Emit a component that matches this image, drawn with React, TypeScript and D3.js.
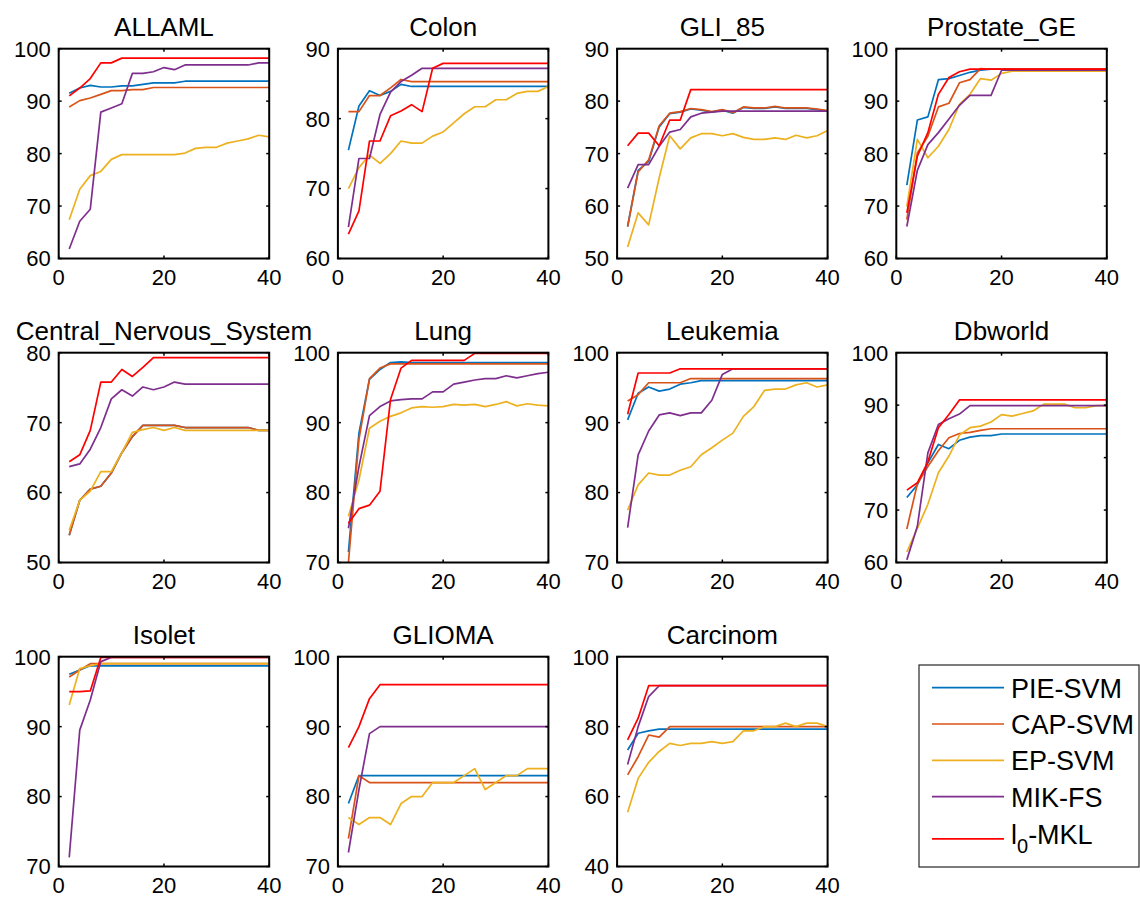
import React from 'react';
import * as d3 from 'd3';

// feature counts on the x axis
const featureCounts = [2, 4, 6, 8, 10, 12, 14, 16, 18, 20, 22, 24, 26, 28, 30, 32, 34, 36, 38, 40];

const methods = ['PIE-SVM', 'CAP-SVM', 'EP-SVM', 'MIK-FS', 'l0-MKL'];
const methodColors = ['#0072BD', '#D95319', '#EDB120', '#7E2F8E', '#FF0000'];

// ALLAML
const allamlPie = [91.5, 92.5, 93.0, 92.7, 92.7, 92.9, 92.9, 93.2, 93.5, 93.5, 93.5, 93.8, 93.8, 93.8, 93.8, 93.8, 93.8, 93.8, 93.8, 93.8];
const allamlCap = [88.9, 90.1, 90.6, 91.3, 92.0, 92.0, 92.2, 92.2, 92.6, 92.6, 92.6, 92.6, 92.6, 92.6, 92.6, 92.6, 92.6, 92.6, 92.6, 92.6];
const allamlEp = [67.4, 73.2, 75.8, 76.6, 78.9, 79.8, 79.8, 79.8, 79.8, 79.8, 79.8, 80.1, 81.0, 81.2, 81.2, 82.0, 82.4, 82.8, 83.5, 83.2];
const allamlMik = [61.8, 67.1, 69.4, 87.9, 88.7, 89.5, 95.3, 95.3, 95.6, 96.4, 96.0, 96.9, 96.9, 96.9, 96.9, 96.9, 96.9, 96.9, 97.3, 97.3];
const allamlL0 = [91.0, 92.5, 94.3, 97.3, 97.3, 98.2, 98.2, 98.2, 98.2, 98.2, 98.2, 98.2, 98.2, 98.2, 98.2, 98.2, 98.2, 98.2, 98.2, 98.2];

// Colon
const colonPie = [75.5, 81.8, 84.0, 83.3, 83.9, 84.9, 84.6, 84.6, 84.6, 84.6, 84.6, 84.6, 84.6, 84.6, 84.6, 84.6, 84.6, 84.6, 84.6, 84.6];
const colonCap = [81.0, 81.0, 83.3, 83.3, 84.4, 85.6, 85.3, 85.3, 85.3, 85.3, 85.3, 85.3, 85.3, 85.3, 85.3, 85.3, 85.3, 85.3, 85.3, 85.3];
const colonEp = [70.0, 73.0, 74.8, 73.6, 75.0, 76.8, 76.5, 76.5, 77.5, 78.1, 79.4, 80.7, 81.7, 81.7, 82.7, 82.7, 83.6, 83.9, 83.9, 84.6];
const colonMik = [64.5, 74.3, 74.3, 80.6, 83.8, 85.3, 86.2, 87.2, 87.2, 87.2, 87.2, 87.2, 87.2, 87.2, 87.2, 87.2, 87.2, 87.2, 87.2, 87.2];
const colonL0 = [63.5, 66.8, 76.8, 76.8, 80.4, 81.1, 82.0, 81.0, 87.2, 87.9, 87.9, 87.9, 87.9, 87.9, 87.9, 87.9, 87.9, 87.9, 87.9, 87.9];

// GLI_85
const gliPie = [56.1, 66.8, 68.5, 75.1, 77.6, 77.9, 78.5, 78.3, 77.9, 78.3, 77.7, 78.8, 78.6, 78.6, 78.9, 78.6, 78.6, 78.6, 78.4, 78.1];
const gliCap = [56.1, 66.5, 68.8, 75.3, 77.7, 78.0, 78.6, 78.4, 78.0, 78.4, 77.8, 78.9, 78.7, 78.7, 79.0, 78.7, 78.7, 78.7, 78.5, 78.2];
const gliEp = [52.2, 58.7, 56.4, 65.4, 73.4, 70.9, 73.0, 73.8, 73.8, 73.4, 73.8, 73.1, 72.7, 72.7, 73.0, 72.7, 73.5, 73.0, 73.4, 74.4];
const gliMik = [63.4, 67.9, 67.9, 71.4, 74.1, 74.6, 77.0, 77.7, 77.9, 78.1, 78.1, 78.1, 78.1, 78.1, 78.1, 78.1, 78.1, 78.1, 78.1, 78.1];
const gliL0 = [71.5, 73.9, 73.9, 71.5, 76.4, 76.4, 82.2, 82.2, 82.2, 82.2, 82.2, 82.2, 82.2, 82.2, 82.2, 82.2, 82.2, 82.2, 82.2, 82.2];

// Prostate_GE
const prostatePie = [74.0, 86.4, 87.0, 94.1, 94.3, 94.9, 95.5, 95.9, 96.1, 96.1, 96.1, 96.1, 96.1, 96.1, 96.1, 96.1, 96.1, 96.1, 96.1, 96.1];
const prostateCap = [67.4, 80.1, 83.3, 88.9, 89.6, 93.5, 94.1, 96.2, 96.1, 96.1, 96.1, 96.1, 96.1, 96.1, 96.1, 96.1, 96.1, 96.1, 96.1, 96.1];
const prostateEp = [69.9, 82.7, 79.2, 81.4, 84.6, 89.4, 91.3, 94.3, 94.0, 95.3, 95.7, 95.7, 95.7, 95.7, 95.7, 95.7, 95.7, 95.7, 95.7, 95.7];
const prostateMik = [66.1, 76.8, 81.7, 84.0, 86.6, 89.2, 91.1, 91.1, 91.1, 95.9, 95.9, 95.9, 95.9, 95.9, 95.9, 95.9, 95.9, 95.9, 95.9, 95.9];
const prostateL0 = [68.7, 79.5, 84.0, 91.3, 94.5, 95.6, 96.1, 96.1, 96.1, 96.1, 96.1, 96.1, 96.1, 96.1, 96.1, 96.1, 96.1, 96.1, 96.1, 96.1];

// Central_Nervous_System
const cnsPie = [53.9, 58.9, 60.5, 60.9, 62.8, 65.7, 68.0, 69.6, 69.6, 69.6, 69.6, 69.3, 69.3, 69.3, 69.3, 69.3, 69.3, 69.3, 68.9, 68.9];
const cnsCap = [53.9, 58.9, 60.5, 60.9, 62.8, 65.7, 68.0, 69.6, 69.6, 69.6, 69.6, 69.3, 69.3, 69.3, 69.3, 69.3, 69.3, 69.3, 68.9, 68.9];
const cnsEp = [54.6, 58.9, 60.2, 63.0, 63.0, 65.7, 68.6, 69.0, 69.3, 68.9, 69.3, 68.9, 68.9, 68.9, 68.9, 68.9, 68.9, 68.9, 68.9, 68.9];
const cnsMik = [63.7, 64.1, 66.2, 69.3, 73.4, 74.7, 73.8, 75.1, 74.7, 75.1, 75.8, 75.5, 75.5, 75.5, 75.5, 75.5, 75.5, 75.5, 75.5, 75.5];
const cnsL0 = [64.4, 65.4, 68.9, 75.8, 75.8, 77.6, 76.6, 77.9, 79.3, 79.3, 79.3, 79.3, 79.3, 79.3, 79.3, 79.3, 79.3, 79.3, 79.3, 79.3];

// Lung
const lungPie = [71.5, 88.5, 96.2, 97.6, 98.6, 98.7, 98.6, 98.6, 98.6, 98.6, 98.6, 98.6, 98.6, 98.6, 98.6, 98.6, 98.6, 98.6, 98.6, 98.6];
const lungCap = [70.0, 87.6, 96.3, 97.8, 98.4, 98.4, 98.4, 98.4, 98.4, 98.4, 98.4, 98.4, 98.4, 98.4, 98.4, 98.4, 98.4, 98.4, 98.4, 98.4];
const lungEp = [76.6, 81.8, 89.2, 90.2, 90.9, 91.4, 92.1, 92.3, 92.2, 92.3, 92.6, 92.5, 92.6, 92.3, 92.6, 93.0, 92.4, 92.7, 92.5, 92.4];
const lungMik = [74.9, 83.7, 91.0, 92.3, 93.1, 93.3, 93.4, 93.4, 94.4, 94.4, 95.5, 95.8, 96.1, 96.3, 96.3, 96.7, 96.4, 96.7, 97.0, 97.2];
const lungL0 = [75.6, 77.7, 78.2, 80.2, 93.3, 97.8, 98.9, 98.9, 98.9, 98.9, 98.9, 98.9, 99.9, 99.9, 99.9, 99.9, 99.9, 99.9, 99.9, 99.9];

// Leukemia
const leukPie = [90.4, 94.2, 95.1, 94.5, 94.8, 95.5, 95.7, 96.0, 96.0, 96.0, 96.0, 96.0, 96.0, 96.0, 96.0, 96.0, 96.0, 96.0, 96.0, 96.0];
const leukCap = [93.1, 94.0, 95.7, 95.7, 95.7, 95.7, 96.3, 96.3, 96.3, 96.3, 96.3, 96.3, 96.3, 96.3, 96.3, 96.3, 96.3, 96.3, 96.3, 96.3];
const leukEp = [77.5, 81.1, 82.8, 82.5, 82.5, 83.2, 83.7, 85.4, 86.4, 87.5, 88.5, 90.9, 92.3, 94.6, 94.8, 94.8, 95.4, 95.7, 95.1, 95.4];
const leukMik = [75.0, 85.4, 88.8, 91.1, 91.4, 91.0, 91.4, 91.4, 93.2, 96.9, 97.7, 97.7, 97.7, 97.7, 97.7, 97.7, 97.7, 97.7, 97.7, 97.7];
const leukL0 = [91.2, 97.1, 97.1, 97.1, 97.1, 97.7, 97.7, 97.7, 97.7, 97.7, 97.7, 97.7, 97.7, 97.7, 97.7, 97.7, 97.7, 97.7, 97.7, 97.7];

// Dbworld
const dbPie = [72.4, 74.8, 79.0, 82.5, 81.7, 83.3, 83.9, 84.2, 84.2, 84.5, 84.5, 84.5, 84.5, 84.5, 84.5, 84.5, 84.5, 84.5, 84.5, 84.5];
const dbCap = [66.4, 75.0, 78.3, 81.3, 83.8, 84.6, 84.8, 85.2, 85.5, 85.5, 85.5, 85.5, 85.5, 85.5, 85.5, 85.5, 85.5, 85.5, 85.5, 85.5];
const dbEp = [62.0, 66.5, 71.1, 77.1, 80.3, 84.3, 85.7, 86.0, 86.8, 88.2, 87.9, 88.4, 88.9, 90.2, 90.2, 90.2, 89.5, 89.5, 89.9, 89.9];
const dbMik = [60.5, 66.9, 80.9, 86.3, 87.4, 88.3, 89.9, 89.9, 89.9, 89.9, 89.9, 89.9, 89.9, 89.9, 89.9, 89.9, 89.9, 89.9, 89.9, 89.9];
const dbL0 = [73.8, 75.2, 79.2, 85.7, 88.2, 91.0, 91.0, 91.0, 91.0, 91.0, 91.0, 91.0, 91.0, 91.0, 91.0, 91.0, 91.0, 91.0, 91.0, 91.0];

// Isolet
const isoletPie = [97.5, 98.1, 98.7, 98.7, 98.7, 98.7, 98.7, 98.7, 98.7, 98.7, 98.7, 98.7, 98.7, 98.7, 98.7, 98.7, 98.7, 98.7, 98.7, 98.7];
const isoletCap = [97.1, 98.1, 99.0, 99.0, 99.0, 99.0, 99.0, 99.0, 99.0, 99.0, 99.0, 99.0, 99.0, 99.0, 99.0, 99.0, 99.0, 99.0, 99.0, 99.0];
const isoletEp = [93.1, 98.3, 98.7, 99.0, 99.0, 99.0, 99.0, 99.0, 99.0, 99.0, 99.0, 99.0, 99.0, 99.0, 99.0, 99.0, 99.0, 99.0, 99.0, 99.0];
const isoletMik = [71.3, 89.5, 93.8, 99.3, 99.9, 99.9, 99.9, 99.9, 99.9, 99.9, 99.9, 99.9, 99.9, 99.9, 99.9, 99.9, 99.9, 99.9, 99.9, 99.9];
const isoletL0 = [95.0, 95.0, 95.1, 99.9, 99.9, 99.9, 99.9, 99.9, 99.9, 99.9, 99.9, 99.9, 99.9, 99.9, 99.9, 99.9, 99.9, 99.9, 99.9, 99.9];

// GLIOMA
const gliomaPie = [79, 83, 83, 83, 83, 83, 83, 83, 83, 83, 83, 83, 83, 83, 83, 83, 83, 83, 83, 83];
const gliomaCap = [74, 83, 82, 82, 82, 82, 82, 82, 82, 82, 82, 82, 82, 82, 82, 82, 82, 82, 82, 82];
const gliomaEp = [77, 76, 77, 77, 76, 79, 80, 80, 82, 82, 82, 83, 84, 81, 82, 83, 83, 84, 84, 84];
const gliomaMik = [72, 81, 89, 90, 90, 90, 90, 90, 90, 90, 90, 90, 90, 90, 90, 90, 90, 90, 90, 90];
const gliomaL0 = [87, 90, 94, 96, 96, 96, 96, 96, 96, 96, 96, 96, 96, 96, 96, 96, 96, 96, 96, 96];

// Carcinom
const carcPie = [73.3, 78.1, 78.8, 79.3, 79.3, 79.3, 79.3, 79.3, 79.3, 79.3, 79.3, 79.3, 79.3, 79.3, 79.3, 79.3, 79.3, 79.3, 79.3, 79.3];
const carcCap = [66.2, 71.4, 77.6, 77.0, 80.0, 80.0, 80.0, 80.0, 80.0, 80.0, 80.0, 80.0, 80.0, 80.0, 80.0, 80.0, 80.0, 80.0, 80.0, 80.0];
const carcEp = [55.5, 65.2, 69.8, 72.9, 75.2, 74.6, 75.2, 75.2, 75.7, 75.2, 75.7, 78.8, 78.8, 80.0, 80.0, 81.0, 80.0, 81.0, 81.0, 80.0];
const carcMik = [69.2, 80.0, 88.6, 91.7, 91.7, 91.7, 91.7, 91.7, 91.7, 91.7, 91.7, 91.7, 91.7, 91.7, 91.7, 91.7, 91.7, 91.7, 91.7, 91.7];
const carcL0 = [76.2, 82.4, 91.7, 91.7, 91.7, 91.7, 91.7, 91.7, 91.7, 91.7, 91.7, 91.7, 91.7, 91.7, 91.7, 91.7, 91.7, 91.7, 91.7, 91.7];

const titles = ['ALLAML', 'Colon', 'GLI_85', 'Prostate_GE', 'Central_Nervous_System', 'Lung', 'Leukemia', 'Dbworld', 'Isolet', 'GLIOMA', 'Carcinom'];
const yDomains = [[60, 100], [60, 90], [50, 90], [60, 100], [50, 80], [70, 100], [70, 100], [60, 100], [70, 100], [70, 100], [40, 100]];
const yTickSteps = [10, 10, 10, 10, 10, 10, 10, 10, 10, 10, 20];
const xTicks = [0, 20, 40];

const panelSeries = [
  [allamlPie, allamlCap, allamlEp, allamlMik, allamlL0],
  [colonPie, colonCap, colonEp, colonMik, colonL0],
  [gliPie, gliCap, gliEp, gliMik, gliL0],
  [prostatePie, prostateCap, prostateEp, prostateMik, prostateL0],
  [cnsPie, cnsCap, cnsEp, cnsMik, cnsL0],
  [lungPie, lungCap, lungEp, lungMik, lungL0],
  [leukPie, leukCap, leukEp, leukMik, leukL0],
  [dbPie, dbCap, dbEp, dbMik, dbL0],
  [isoletPie, isoletCap, isoletEp, isoletMik, isoletL0],
  [gliomaPie, gliomaCap, gliomaEp, gliomaMik, gliomaL0],
  [carcPie, carcCap, carcEp, carcMik, carcL0],
];

// layout of the 3x4 grid
const W = 1140;
const H = 902;
const left0 = 58.7;
const colStep = 279.2;
const top0 = 48.7;
const rowStep = 304;
const axW = 210.5;
const axH = 209.8;
const FONT = '"Liberation Sans", Arial, Helvetica, sans-serif';

const Panel = ({ idx }) => {
  const col = idx % 4;
  const row = Math.floor(idx / 4);
  const x0 = left0 + col * colStep;
  const y0 = top0 + row * rowStep;
  const [lo, hi] = yDomains[idx];

  const xScale = d3.scaleLinear().domain([0, 40]).range([0, axW]);
  const yScale = d3.scaleLinear().domain([lo, hi]).range([axH, 0]);
  const yTicks = d3.range(lo, hi + 0.001, yTickSteps[idx]);

  const line = d3
    .line()
    .x((d, i) => xScale(featureCounts[i]))
    .y((d) => yScale(Math.max(lo, Math.min(hi, d))));

  const tickLen = 3;

  return (
    <g transform={`translate(${x0},${y0})`}>
      <text
        x={axW / 2}
        y={-12.5}
        textAnchor="middle"
        fontSize={26}
        fontFamily={FONT}
      >
        {titles[idx]}
      </text>

      {panelSeries[idx].map((vals, k) => (
        <path
          key={k}
          d={line(vals)}
          fill="none"
          stroke={methodColors[k]}
          strokeWidth={1.7}
          strokeLinejoin="round"
        />
      ))}

      {/* tick marks inside the box, on all four sides */}
      {yTicks.map((t) => (
        <g key={'y' + t}>
          <line x1={0} x2={tickLen} y1={yScale(t)} y2={yScale(t)} stroke="#000" strokeWidth={1.5} />
          <line x1={axW} x2={axW - tickLen} y1={yScale(t)} y2={yScale(t)} stroke="#000" strokeWidth={1.5} />
          <text
            x={-8}
            y={yScale(t)}
            dy="0.36em"
            textAnchor="end"
            fontSize={22}
            fontFamily={FONT}
          >
            {t}
          </text>
        </g>
      ))}
      {xTicks.map((t) => (
        <g key={'x' + t}>
          <line x1={xScale(t)} x2={xScale(t)} y1={axH} y2={axH - tickLen} stroke="#000" strokeWidth={1.5} />
          <line x1={xScale(t)} x2={xScale(t)} y1={0} y2={tickLen} stroke="#000" strokeWidth={1.5} />
          <text
            x={xScale(t)}
            y={axH + 27}
            textAnchor="middle"
            fontSize={22}
            fontFamily={FONT}
          >
            {t}
          </text>
        </g>
      ))}

      <rect x={0} y={0} width={axW} height={axH} fill="none" stroke="#000" strokeWidth={2} />
    </g>
  );
};

const Legend = () => {
  const bx = 919;
  const by = 665;
  const bw = 220;
  const bh = 202;
  const rowY = (i) => by + 22.7 + i * 36.3 + (i === 4 ? 6 : 0);
  return (
    <g>
      <rect x={bx} y={by} width={bw} height={bh} fill="#fff" stroke="#262626" strokeWidth={1.2} />
      {methods.map((m, i) => (
        <g key={m}>
          <line
            x1={bx + 13}
            x2={bx + 85}
            y1={rowY(i)}
            y2={rowY(i)}
            stroke={methodColors[i]}
            strokeWidth={1.7}
          />
          {i < 4 ? (
            <text x={bx + 92} y={rowY(i) + 10} fontSize={27} fontFamily={FONT}>
              {m}
            </text>
          ) : (
            <text x={bx + 92} y={rowY(i) + 5} fontSize={27} fontFamily={FONT}>
              <tspan>l</tspan>
              <tspan dy={9} fontSize={20}>0</tspan>
              <tspan dy={-9}>-MKL</tspan>
            </text>
          )}
        </g>
      ))}
    </g>
  );
};

export default function App() {
  return (
    <svg
      width={W}
      height={H}
      style={{ position: 'absolute', left: 0, top: 0, background: '#fff' }}
    >
      <rect width={W} height={H} fill="#fff" />
      {titles.map((t, i) => (
        <Panel key={t} idx={i} />
      ))}
      <Legend />
    </svg>
  );
}
